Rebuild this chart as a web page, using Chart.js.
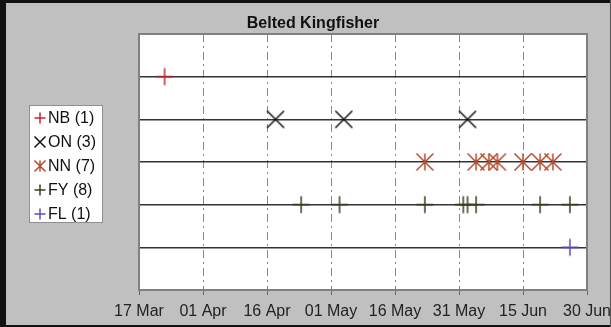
<!DOCTYPE html>
<html>
<head>
<meta charset="utf-8">
<script src="https://cdn.jsdelivr.net/npm/chart.js@4"></script>
<style>
  html, body { margin: 0; padding: 0; background: #c0c0c0; }
  #wrap { width: 611px; height: 327px; position: relative; }
</style>
</head>
<body>
<div id="wrap"><canvas id="chart" width="611" height="327"></canvas></div>
<script>
const categories = ['NB', 'ON', 'NN', 'FY', 'FL']
const nbDates = ['23 Mar']
const onDates = ['18 Apr', '04 May', '02 Jun']
const nnDates = ['23 May', '04 Jun', '07 Jun', '09 Jun', '15 Jun', '19 Jun', '22 Jun']
const fyDates = ['24 Apr', '03 May', '23 May', '01 Jun', '02 Jun', '04 Jun', '19 Jun', '26 Jun']
const flDates = ['26 Jun']
const tickLabels = ['17 Mar', '01 Apr', '16 Apr', '01 May', '16 May', '31 May', '15 Jun', '30 Jun']

const months = { Mar: 2, Apr: 3, May: 4, Jun: 5 }
// days since 17 Mar
function dayOf(s) {
  const [d, m] = s.split(' ')
  return (Date.UTC(2001, months[m], +d) - Date.UTC(2001, 2, 17)) / 86400000
}
const tickDays = tickLabels.map(dayOf)

const styles = [
  { kind: 'plus', color: '#c0282d' },
  { kind: 'x', color: '#111111' },
  { kind: 'star', color: '#b84a2e' },
  { kind: 'plus', color: '#3d3d20' },
  { kind: 'plus', color: '#5a4ec4' }
]

function drawMarker(ctx, kind, color, x, y, r) {
  ctx.save()
  ctx.strokeStyle = color
  ctx.lineWidth = 1.5
  ctx.beginPath()
  if (kind === 'plus') {
    ctx.moveTo(x - r, y); ctx.lineTo(x + r, y)
    ctx.moveTo(x, y - r); ctx.lineTo(x, y + r)
  } else {
    ctx.moveTo(x - r, y - r); ctx.lineTo(x + r, y + r)
    ctx.moveTo(x + r, y - r); ctx.lineTo(x - r, y + r)
    if (kind === 'star') {
      ctx.moveTo(x, y - r); ctx.lineTo(x, y + r)
    }
  }
  ctx.stroke()
  ctx.restore()
}

function markerImage(st) {
  const c = document.createElement('canvas')
  c.width = 20; c.height = 20
  drawMarker(c.getContext('2d'), st.kind, st.color, 10, 10, 8.5)
  return c
}

const allDates = [nbDates, onDates, nnDates, fyDates, flDates]
const datasets = categories.map((cat, i) => ({
  label: cat + ' (' + allDates[i].length + ')',
  data: allDates[i].map(d => ({ x: dayOf(d), y: i + 1 })),
  pointStyle: markerImage(styles[i]),
  pointRadius: 9,
  showLine: false
}))

const framePlugin = {
  id: 'frame',
  beforeDraw(chart) {
    const { ctx, chartArea: a, width, height } = chart
    ctx.save()
    ctx.fillStyle = '#c0c0c0'
    ctx.fillRect(0, 0, width, height)
    ctx.fillStyle = '#111'
    ctx.fillRect(0, 0, 6, height)
    ctx.fillRect(0, 0, width, 3)
    ctx.fillRect(0, height - 2, width, 2)
    ctx.fillStyle = '#ffffff'
    ctx.fillRect(a.left, a.top, a.right - a.left, a.bottom - a.top)
    ctx.restore()
  },
  afterDraw(chart) {
    const { ctx, chartArea: a, width, height } = chart
    ctx.save()
    ctx.strokeStyle = '#808080'
    ctx.lineWidth = 2
    ctx.strokeRect(a.left, a.top, a.right - a.left, a.bottom - a.top)
    ctx.fillStyle = '#555'
    ctx.fillRect(width - 1, 0, 1, height)
    // title
    ctx.fillStyle = '#111'
    ctx.font = 'bold 16px "Liberation Sans", Arial, sans-serif'
    ctx.textAlign = 'center'
    ctx.textBaseline = 'middle'
    ctx.fillText('Belted Kingfisher', 313, 24)
    // legend
    ctx.fillStyle = '#ffffff'
    ctx.fillRect(29, 105, 73, 117)
    ctx.strokeStyle = '#909090'
    ctx.lineWidth = 1
    ctx.strokeRect(29.5, 105.5, 73, 117)
    ctx.font = '16px "Liberation Sans", Arial, sans-serif'
    ctx.textAlign = 'left'
    chart.data.datasets.forEach((ds, i) => {
      const y = 118 + i * 24
      drawMarker(ctx, styles[i].kind, styles[i].color, 40, y, 5.5)
      ctx.fillStyle = '#111'
      ctx.fillText(ds.label, 48, y + 1)
    })
    ctx.restore()
  }
}

new Chart(document.getElementById('chart'), {
  type: 'scatter',
  data: { datasets },
  plugins: [framePlugin],
  options: {
    responsive: false,
    animation: false,
    layout: { padding: { left: 139, right: 24, top: 34, bottom: 0 } },
    plugins: { legend: { display: false }, title: { display: false }, tooltip: { enabled: false } },
    scales: {
      x: {
        type: 'linear',
        min: 0,
        max: 105,
        afterBuildTicks: s => { s.ticks = tickDays.map(v => ({ value: v })) },
        afterFit: s => { s.height = 37; s.paddingLeft = 0; s.paddingRight = 0 },
        ticks: {
          callback: (v, i) => tickLabels[i],
          color: '#222',
          font: { size: 16, family: '"Liberation Sans", Arial, sans-serif' },
          padding: 7,
          maxRotation: 0,
          autoSkip: false
        },
        grid: {
          color: c => (c.index === 0 || c.index === tickDays.length - 1) ? 'transparent' : '#888',
          lineWidth: 1,
          tickLength: 5,
          tickColor: '#666',
          tickBorderDash: []
        },
        border: { display: false, dash: [8, 4, 2, 4] }
      },
      y: {
        type: 'linear',
        min: 0,
        max: 6,
        reverse: true,
        afterBuildTicks: s => { s.ticks = [0, 1, 2, 3, 4, 5, 6].map(v => ({ value: v })) },
        afterFit: s => { s.width = 0 },
        ticks: { display: false },
        grid: {
          color: c => (c.tick.value >= 1 && c.tick.value <= 5) ? '#333' : 'transparent',
          lineWidth: 1.5,
          drawTicks: false
        },
        border: { display: false }
      }
    }
  }
})
</script>
</body>
</html>
